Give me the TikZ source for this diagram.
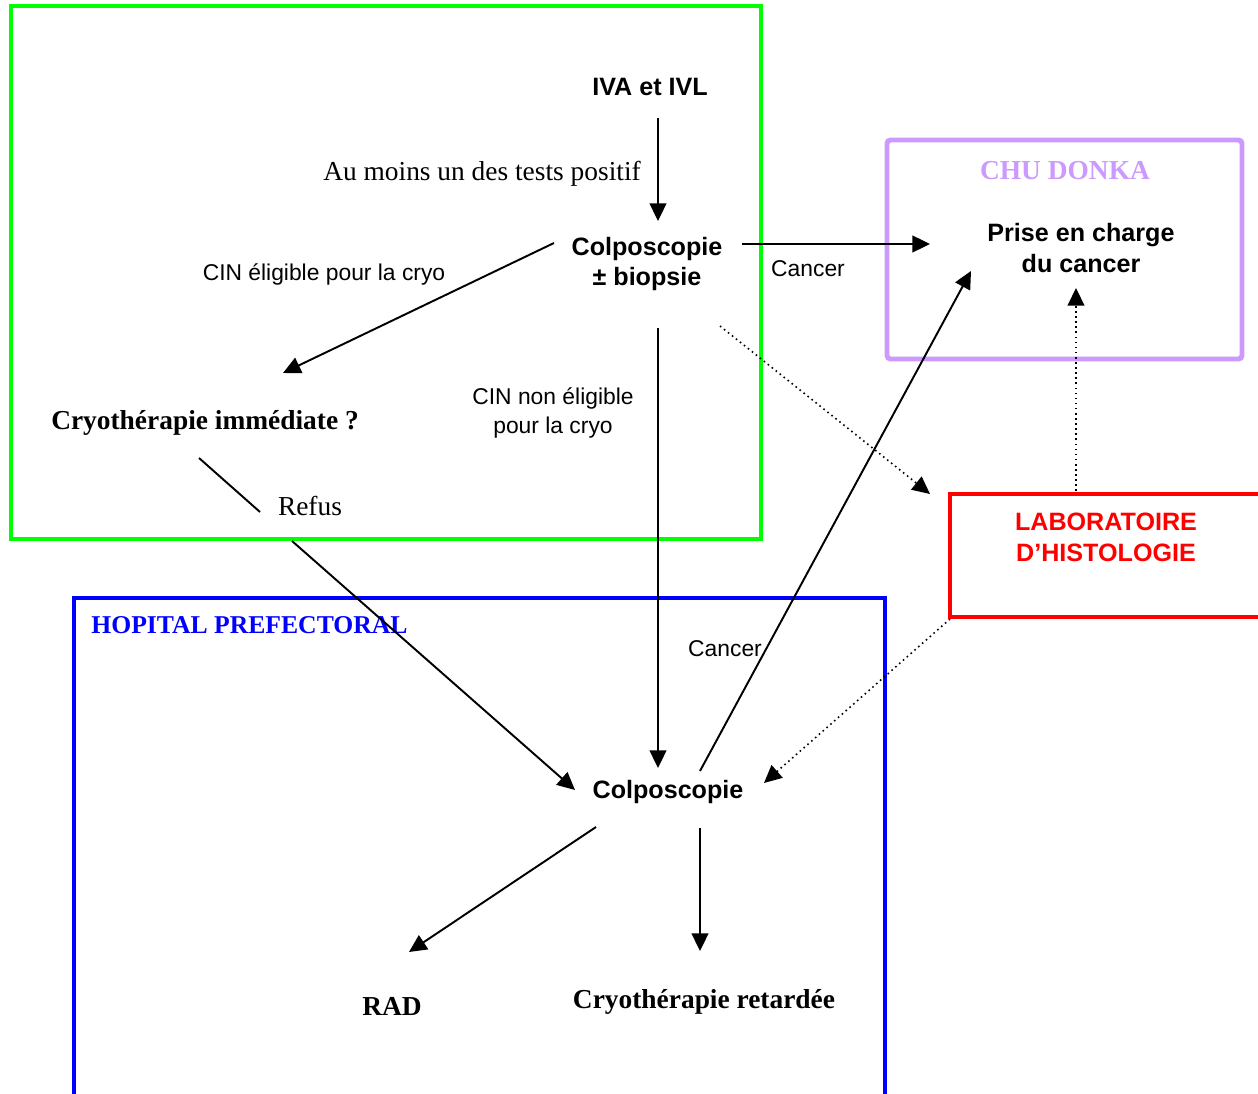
\documentclass[tikz,border=0pt]{standalone}
\usepackage{fontspec}
\setmainfont{Liberation Serif}
\setsansfont{Liberation Sans}
\usetikzlibrary{arrows.meta}

\definecolor{vert}{RGB}{0,255,0}
\definecolor{mauve}{RGB}{204,153,255}
\definecolor{rouge}{RGB}{255,0,0}
\definecolor{bleu}{RGB}{0,0,255}

\begin{document}
\begin{tikzpicture}[x=0.02cm, y=-0.02cm, >={Triangle[length=10pt,width=9.5pt]}]
	\useasboundingbox (0,0) rectangle (1258,1094);
	\tikzstyle{cadre}=[line width=2.8pt]
	\tikzstyle{etape}=[inner sep=0pt, align=center, font=\sffamily\bfseries\fontsize{14.3}{17.6}\selectfont]
	\tikzstyle{choix}=[inner sep=0pt, align=center, font=\sffamily\fontsize{13}{16.4}\selectfont]
	\tikzstyle{soin}=[inner sep=0pt, align=center, font=\bfseries\fontsize{15.6}{18}\selectfont]
	\tikzstyle{note}=[inner sep=0pt, align=center, font=\fontsize{15.6}{18}\selectfont]
	\tikzstyle{fleche}=[->, line width=1.1pt]
	\tikzstyle{pointille}=[->, dotted, line width=0.9pt]
	% les structures
	\draw[cadre, vert] (11,6) rectangle (761,539);
	\draw[cadre, mauve, rounded corners=2pt] (887,140) rectangle (1242,359);
	\draw[cadre, rouge] (950,494) rectangle (1275,617);
	\draw[cadre, bleu] (74,598) rectangle (885,1115);
	\node[soin, text=mauve] (chu) at (1065,171) {CHU DONKA};
	\node[soin, text=bleu, anchor=west, font=\bfseries\fontsize{14.6}{17}\selectfont] (hop) at (91,625) {HOPITAL PREFECTORAL};
	% les etapes
	\node[etape] (iva) at (650,87) {IVA et IVL};
	\node[etape] (colpob) at (647,264) {Colposcopie\\± biopsie};
	\node[etape] (prise) at (1081,248) {Prise en charge\\du cancer};
	\node[etape, text=rouge] (labo) at (1106,537) {LABORATOIRE\\D'HISTOLOGIE};
	\node[soin] (cryoi) at (205,423) {Cryothérapie immédiate ?};
	\node[etape] (colpo) at (668,792) {Colposcopie};
	\node[soin] (rad) at (392,1006) {RAD};
	\node[soin] (cryor) at (704,1002) {Cryothérapie retardée};
	% les libelles
	\node[note] (positif) at (482,174) {Au moins un des tests positif};
	\node[choix] (elig) at (324,274) {CIN éligible pour la cryo};
	\node[choix] (nonelig) at (553,413) {CIN non éligible\\pour la cryo};
	\node[choix] (cancA) at (808,269) {Cancer};
	\node[choix] (cancB) at (725,649) {Cancer};
	\node[note] (refus) at (310,506) {Refus};
	% les fleches
	\draw[fleche] ([shift={(8,31)}]iva.center) -- ([shift={(11,-43)}]colpob.center);
	\draw[fleche] ([shift={(-93,-21)}]colpob.center) -- ([shift={(78,-50)}]cryoi.center);
	\draw[fleche] ([shift={(95,-20)}]colpob.center) -- ([shift={(-151,-4)}]prise.center);
	\draw[fleche] ([shift={(11,64)}]colpob.center) -- ([shift={(-10,-24)}]colpo.center);
	\draw[pointille] ([shift={(73,62)}]colpob.center) -- ([shift={(-176,-43)}]labo.center);
	\draw[line width=1.1pt] ([shift={(-6,35)}]cryoi.center) -- ([shift={(-50,6)}]refus.center);
	\draw[fleche] ([shift={(-18,35)}]refus.center) -- ([shift={(-93,-2)}]colpo.center);
	\draw[fleche] ([shift={(32,-21)}]colpo.center) -- ([shift={(-110,23)}]prise.center);
	\draw[pointille] ([shift={(-156,82)}]labo.center) -- ([shift={(96,-9)}]colpo.center);
	\draw[pointille] ([shift={(-30,-46)}]labo.center) -- ([shift={(-5,40)}]prise.center);
	\draw[fleche] ([shift={(-72,35)}]colpo.center) -- ([shift={(17,-54)}]rad.center);
	\draw[fleche] ([shift={(32,36)}]colpo.center) -- ([shift={(-4,-51)}]cryor.center);
\end{tikzpicture}
\end{document}
